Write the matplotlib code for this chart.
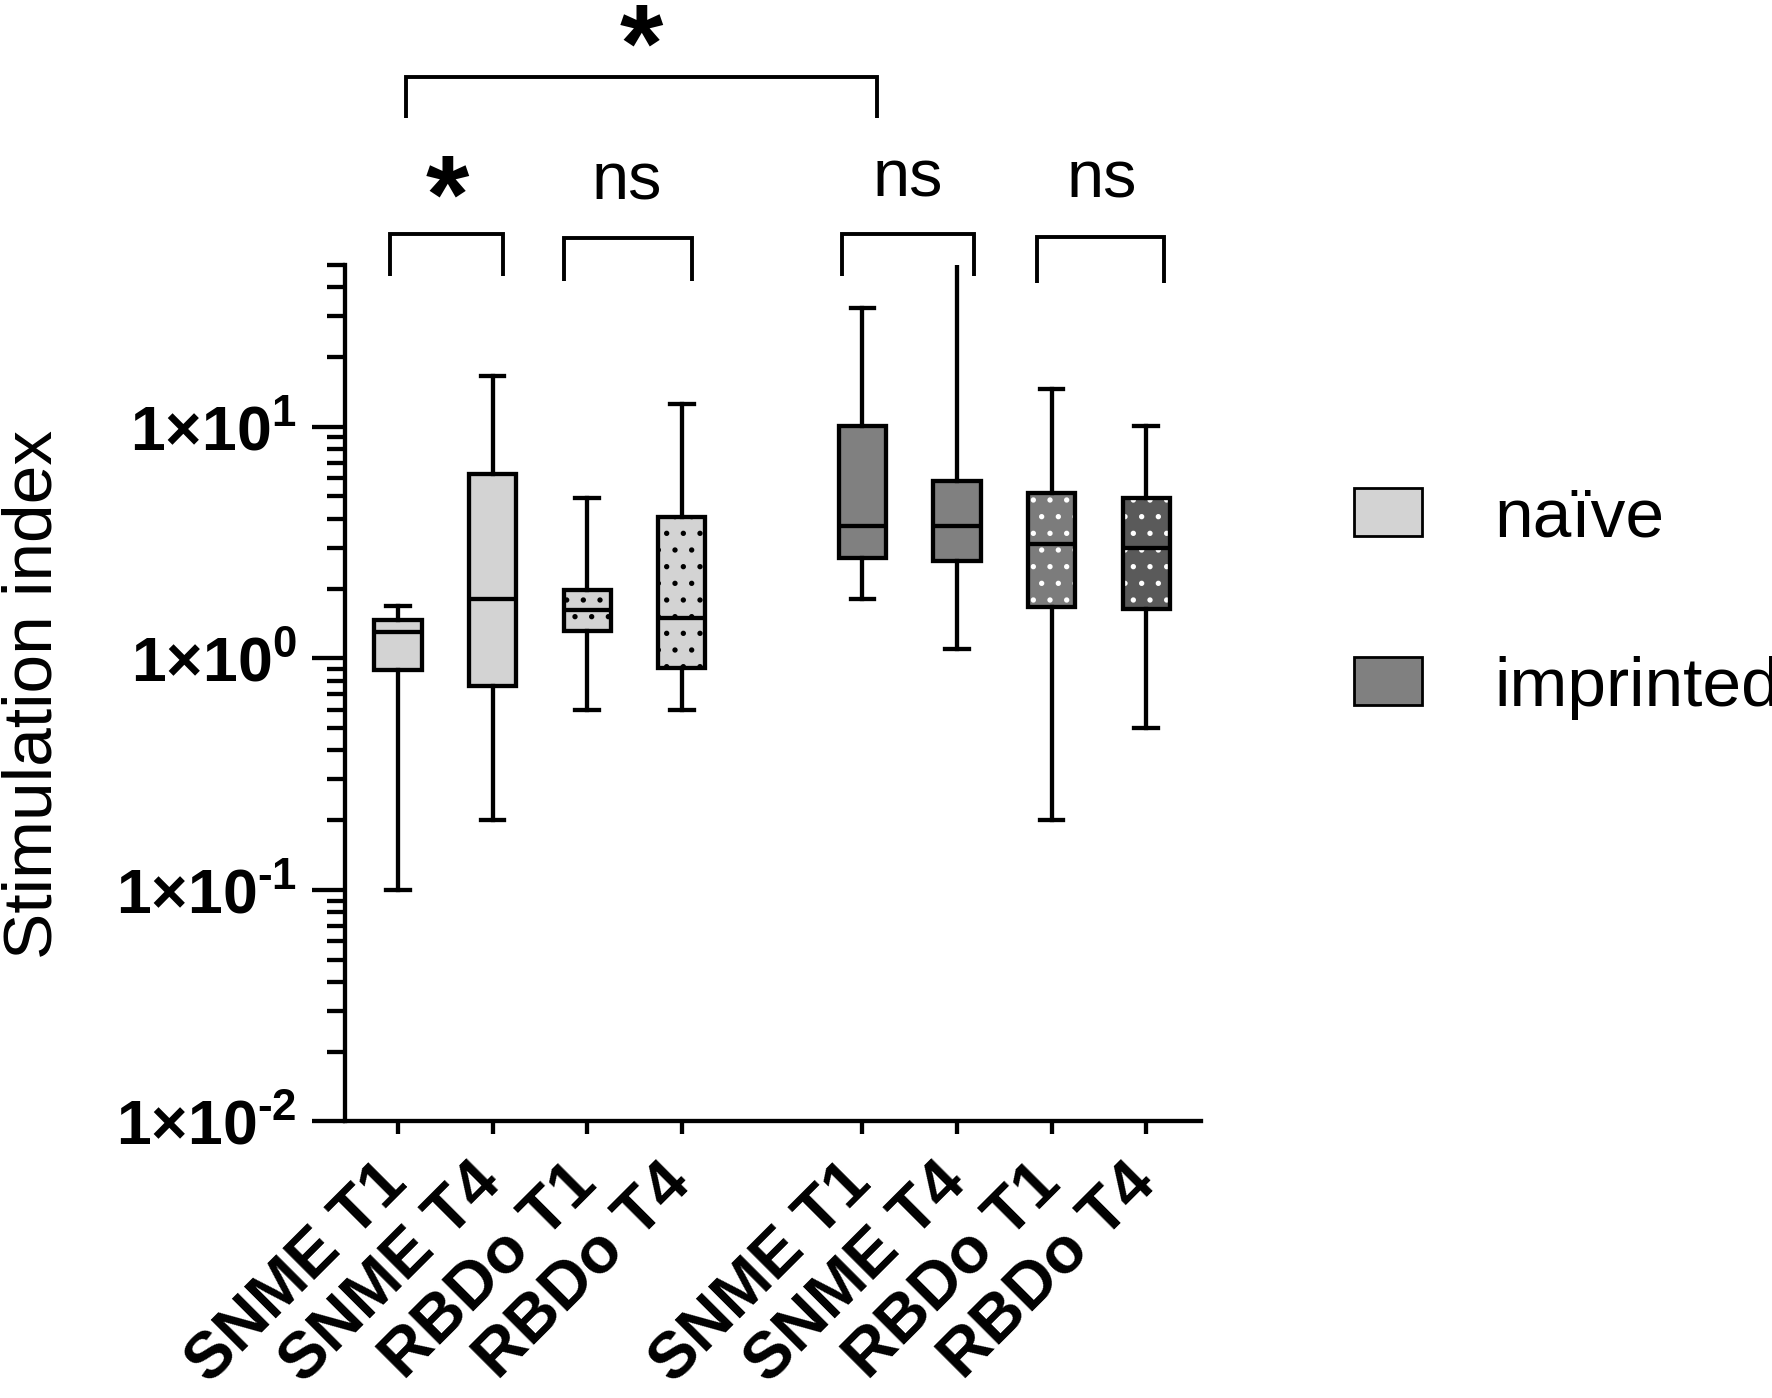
import numpy as np
import matplotlib
matplotlib.use('Agg')
import matplotlib.pyplot as plt
from matplotlib.patches import Patch, PathPatch
from matplotlib.ticker import FixedLocator, LogLocator, FuncFormatter, NullFormatter
from matplotlib.transforms import ScaledTranslation

plt.rcParams['font.family'] = ['Liberation Sans', 'DejaVu Sans']
plt.rcParams['mathtext.fontset'] = 'custom'
plt.rcParams['mathtext.rm'] = 'Liberation Sans'
plt.rcParams['mathtext.bf'] = 'Liberation Sans:bold'
plt.rcParams['hatch.linewidth'] = 1.4

# data (stimulation index, log axis)
labels = ['SNME T1', 'SNME T4', 'RBDo T1', 'RBDo T4',
          'SNME T1', 'SNME T4', 'RBDo T1', 'RBDo T4']
groups = ['naïve', 'imprinted']
whislo = [0.10, 0.20, 0.60, 0.60, 1.80, 1.10, 0.20, 0.50]
q1 = [0.89, 0.76, 1.31, 0.91, 2.70, 2.62, 1.67, 1.63]
med = [1.30, 1.80, 1.62, 1.50, 3.74, 3.74, 3.12, 2.99]
q3 = [1.47, 6.26, 1.98, 4.09, 10.1, 5.82, 5.16, 4.91]
whishi = [1.69, 16.5, 4.93, 12.6, 32.7, 60.0, 14.5, 10.1]

# comparisons: (left box, right box, text)
comparisons = [(0, 4, '*'), (0, 1, '*'), (2, 3, 'ns'), (4, 5, 'ns'), (6, 7, 'ns')]

# styles
positions = [0, 1, 2, 3, 4.91, 5.91, 6.91, 7.91]
fill_colors = ['#d3d3d3', '#d3d3d3', '#d3d3d3', '#d3d3d3',
               '#808080', '#808080', '#7c7c7c', '#5a5a5a']
dot_colors = [None, None, 'black', 'black', None, None, 'white', 'white']
legend_colors = ['#d3d3d3', '#808080']
# bracket geometry: x offsets from the box centres, y in axes fraction
bracket_dx = [(0.08, 0.15), (-0.08, 0.11), (-0.25, 0.11), (-0.22, 0.18), (-0.15, 0.19)]
bracket_y = [(1.2194, 1.1716), (1.0362, 0.9872), (1.0315, 0.9813),
             (1.0362, 0.9872), (1.0327, 0.9790)]
text_x = [2.57, 0.52, 2.42, 5.39, 7.44]
text_y = [1.214, 1.038, 1.0759, 1.0794, 1.0782]

fig = plt.figure(figsize=(17.72, 13.98), dpi=100)
ax = fig.add_axes([0.1947, 0.1978, 0.4831, 0.6127])

stats = []
for i in range(len(labels)):
    stats.append(dict(whislo=whislo[i], q1=q1[i], med=med[i], q3=q3[i],
                      whishi=whishi[i], label=labels[i]))

lw = 3.1
bp = ax.bxp(stats, positions=positions, widths=0.5, capwidths=0.25,
            patch_artist=True, showfliers=False,
            boxprops=dict(linewidth=lw, edgecolor='black'),
            medianprops=dict(color='black', linewidth=lw),
            whiskerprops=dict(color='black', linewidth=lw),
            capprops=dict(color='black', linewidth=lw))

for box, fc, dc in zip(bp['boxes'], fill_colors, dot_colors):
    box.set_facecolor(fc)
    box.set_joinstyle('miter')
    if dc == 'black':
        box.set_hatch('.')
    elif dc == 'white':
        # white dots need their own patch, the hatch takes the edge colour
        under = PathPatch(box.get_path(), transform=box.get_transform(),
                          facecolor=fc, edgecolor='white', hatch='.',
                          linewidth=0, zorder=box.get_zorder() - 0.1)
        ax.add_patch(under)
        box.set_facecolor('none')

ax.set_yscale('log')
ax.set_ylim(0.01, 50)
ax.set_xlim(-0.56, 8.49)

for side in ['top', 'right']:
    ax.spines[side].set_visible(False)
for side in ['left', 'bottom']:
    ax.spines[side].set_linewidth(3.1)

ax.yaxis.set_major_locator(FixedLocator([0.01, 0.1, 1, 10]))
ax.yaxis.set_minor_locator(LogLocator(base=10, subs=np.arange(2, 10), numticks=20))
ax.yaxis.set_minor_formatter(NullFormatter())


def sci_label(v, p):
    e = int(round(np.log10(v)))
    exp = str(e).replace('-', '\u2010')
    return r'$\mathbf{1{\times}10^{%s}}$' % exp


ax.yaxis.set_major_formatter(FuncFormatter(sci_label))
ax.tick_params(axis='y', which='major', length=23.8, width=3.1, labelsize=45, pad=11)
ax.tick_params(axis='y', which='minor', length=13, width=3.1)
ax.tick_params(axis='x', length=9.5, width=3.1, pad=13)

ax.set_xticks(positions)
ax.set_xticklabels(labels, rotation=45, ha='right', va='top',
                   rotation_mode='anchor', fontweight='bold', fontsize=47)
for lab in ax.get_xticklabels():
    lab.set_transform(lab.get_transform() +
                      ScaledTranslation(-0.22, 0, fig.dpi_scale_trans))

fig.text(66 / 1772, 0.503, 'Stimulation index', rotation=90,
         ha='right', va='center', fontsize=50)

# significance brackets
trans = ax.get_xaxis_transform()
for (a, b, s), (dxa, dxb), (ytop, yleg), tx, ty in zip(
        comparisons, bracket_dx, bracket_y, text_x, text_y):
    x0 = positions[a] + dxa
    x1 = positions[b] + dxb
    ax.plot([x0, x0, x1, x1], [yleg, ytop, ytop, yleg], transform=trans,
            clip_on=False, color='black', linewidth=2.8,
            solid_joinstyle='miter', solid_capstyle='butt')
    if s == '*':
        ax.text(tx, ty, s, transform=trans, ha='center', va='baseline',
                fontsize=80, fontweight='bold')
    else:
        ax.text(tx, ty, s, transform=trans, ha='center', va='baseline',
                fontsize=48)

handles = [Patch(facecolor=c, edgecolor='black', linewidth=2) for c in legend_colors]
fig.legend(handles, groups, loc='upper left', bbox_to_anchor=(0.7641, 0.6523),
           bbox_transform=fig.transFigure, frameon=False, fontsize=50,
           handlelength=0.98, handleheight=0.69, handletextpad=1.04,
           labelspacing=1.52, borderpad=0, borderaxespad=0)

fig.savefig('out.png', dpi=100)
